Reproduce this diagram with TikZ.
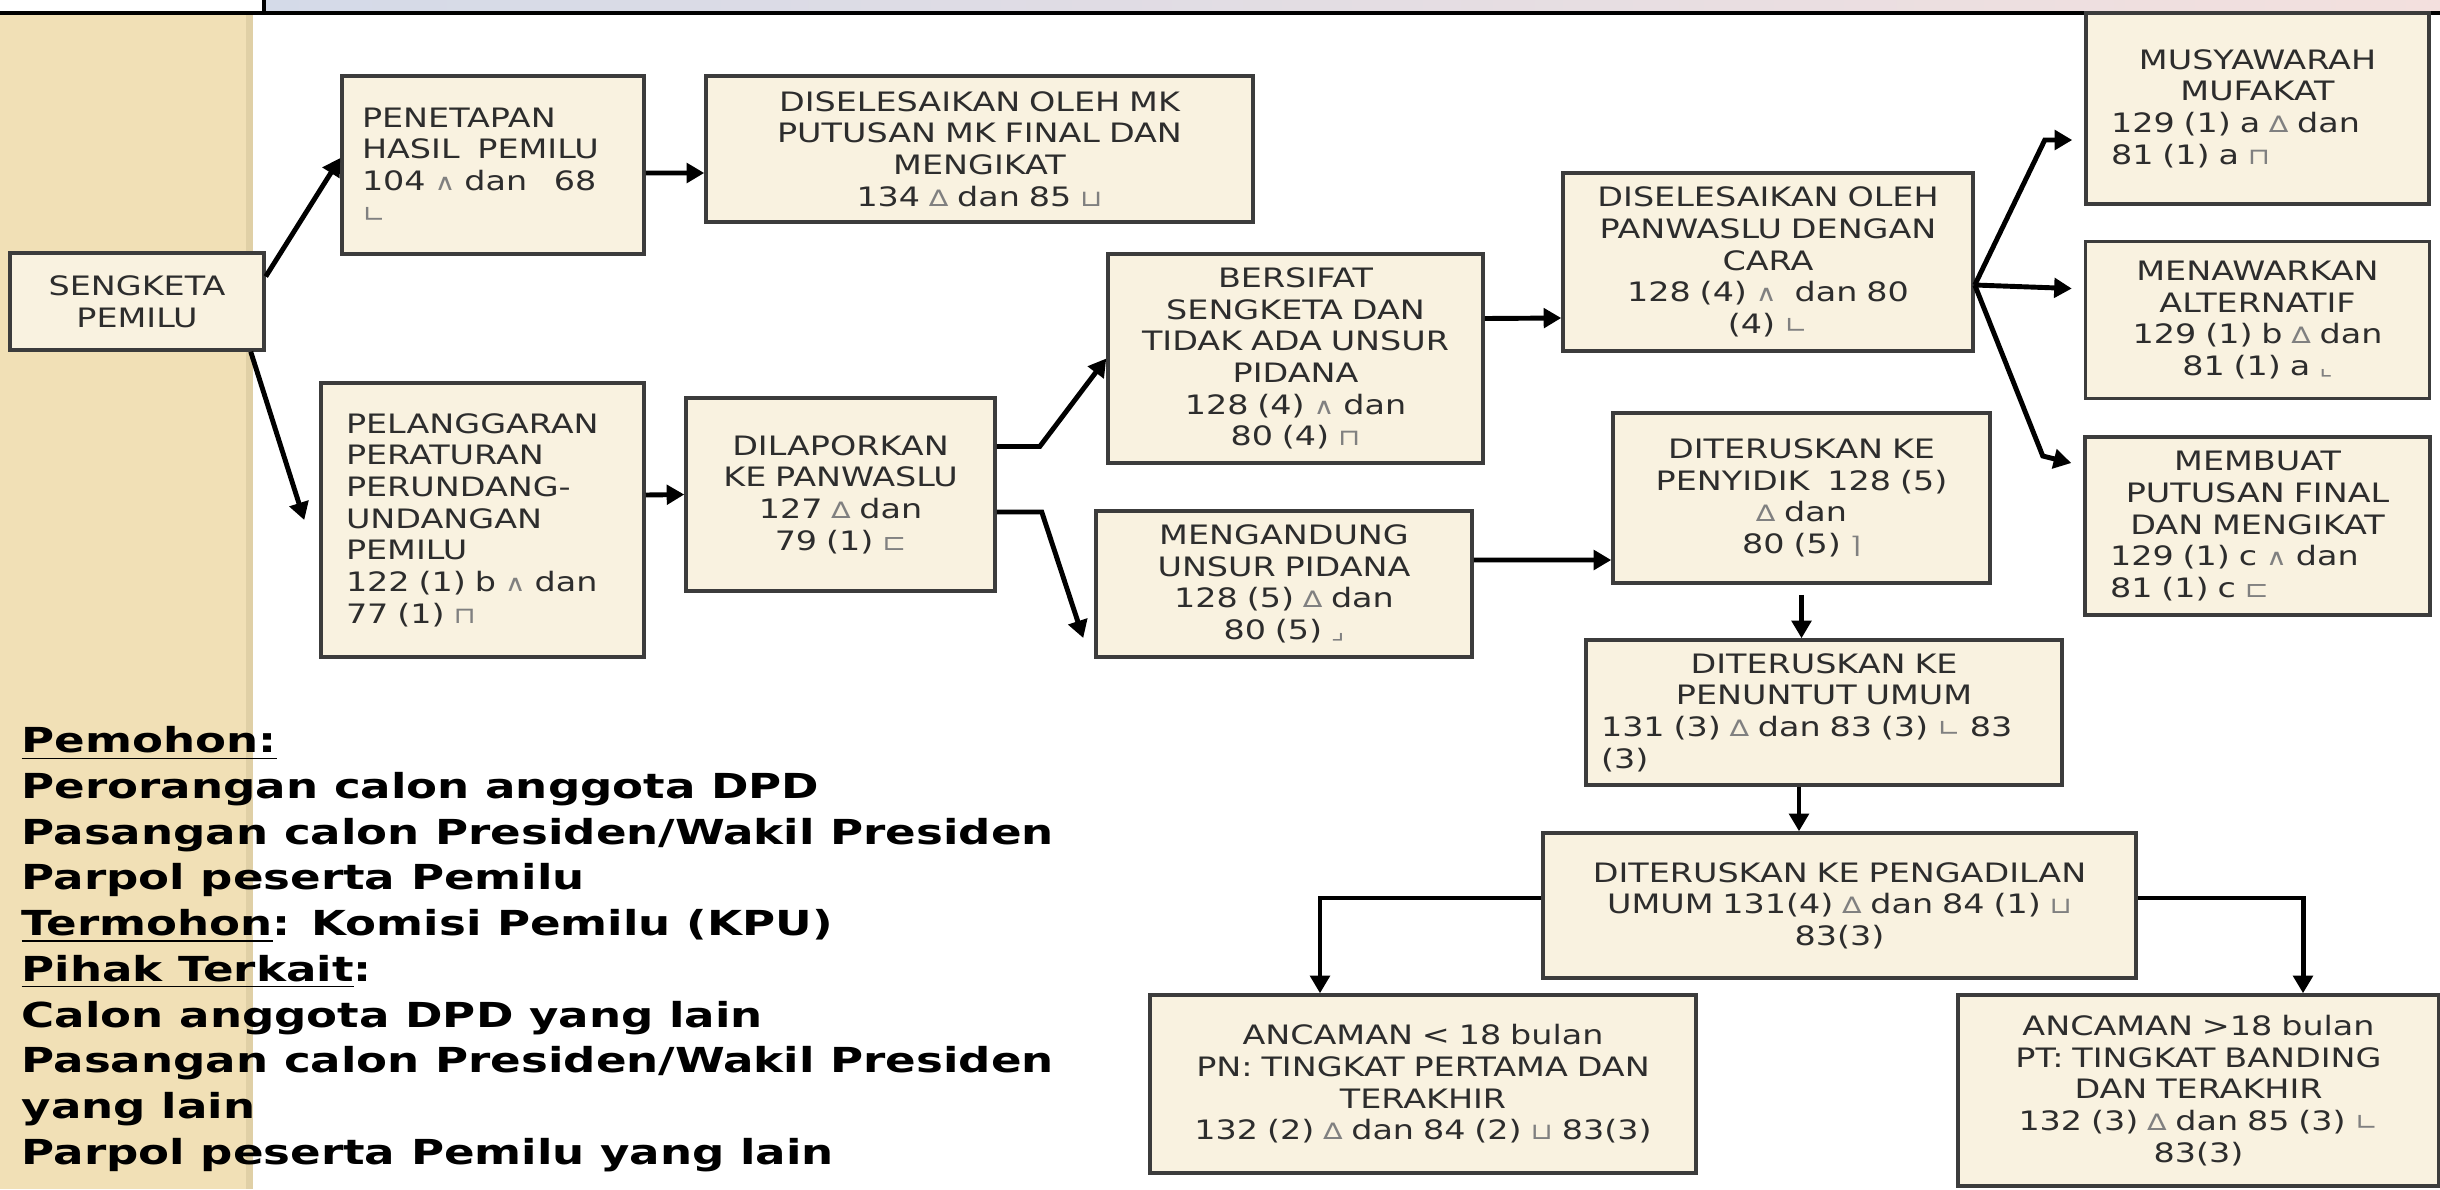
\documentclass[tikz,border=0pt]{standalone}
\usepackage{fontspec}
\setmainfont{DejaVu Sans}
\newfontfamily\boxfont[FakeStretch=1.25]{DejaVu Sans}
\newfontfamily\notefont[FakeStretch=1.31]{DejaVu Sans}
\usepackage{tikz}
\usetikzlibrary{positioning,arrows.meta}

\definecolor{boxfill}{RGB}{249,242,224}
\definecolor{boxline}{RGB}{60,60,60}
\definecolor{boxtext}{RGB}{45,45,45}
\definecolor{band}{RGB}{241,224,182}
\definecolor{bandedge}{RGB}{224,208,166}
\definecolor{stripleft}{RGB}{212,218,232}
\definecolor{stripright}{RGB}{243,224,222}
\newcommand{\sym}[1]{{\color{gray}\fontsize{6.5pt}{6.5pt}\selectfont #1}}
\newcommand{\uln}[1]{\underline{#1}}

\begin{document}
\begin{tikzpicture}[box/.style={rectangle, draw=boxline, fill=boxfill, line width=1pt, inner xsep=1mm, inner ysep=1mm, text=boxtext, align=center, font=\boxfont\fontsize{7.6pt}{9pt}\selectfont},
  >={Triangle[length=5pt,width=5.5pt]},]
\useasboundingbox (0,0) rectangle (24.4,-11.89);
%Background
\fill[white] (0,0) rectangle (24.4,-11.89);
\shade[left color=stripleft, right color=stripright] (2.64,0) rectangle (24.4,-0.13);
\fill[band] (0,-0.13) rectangle (2.53,-11.89);
\fill[bandedge] (2.46,-0.13) rectangle (2.53,-11.89);
\draw[line width=1pt] (0,-0.13) -- (24.4,-0.13);
\draw[line width=1pt] (2.64,0) -- (2.64,-0.13);

%Nodes
\node[box, text width=2.34cm, minimum height=0.97cm] (sengketa) at (1.37,-3.015) {SENGKETA\\PEMILU};
\node[box, align=left, inner xsep=2mm, text width=2.62cm, minimum height=1.78cm] (penetapan) at (4.93,-1.65) {PENETAPAN\\HASIL\ \ PEMILU\\104 \sym{∧} dan\ \ \ 68\\\sym{∟}};
\node[box, text width=5.27cm, minimum height=1.46cm] (mk) at (9.795,-1.49) {DISELESAIKAN OLEH MK\\PUTUSAN MK FINAL DAN\\MENGIKAT\\134 \sym{∆} dan 85 \sym{⊔}};
\node[box, align=left, inner xsep=2.5mm, text width=2.73cm, minimum height=2.74cm] (pelanggaran) at (4.825,-5.2) {PELANGGARAN\\PERATURAN\\PERUNDANG-\\UNDANGAN\\PEMILU\\122 (1) b \sym{∧} dan\\77 (1) \sym{⊓}};
\node[box, text width=2.89cm, minimum height=1.93cm] (dilaporkan) at (8.405,-4.945) {DILAPORKAN\\KE PANWASLU\\127 \sym{∆} dan\\79 (1) \sym{⊏}};
\node[box, text width=3.55cm, minimum height=2.09cm] (bersifat) at (12.955,-3.585) {BERSIFAT\\SENGKETA DAN\\TIDAK ADA UNSUR\\PIDANA\\128 (4) \sym{∧} dan\\80 (4) \sym{⊓}};
\node[box, text width=3.56cm, minimum height=1.46cm] (mengandung) at (12.84,-5.84) {MENGANDUNG\\UNSUR PIDANA\\128 (5) \sym{∆} dan\\80 (5) \sym{⌟}};
\node[box, text width=3.9cm, minimum height=1.78cm] (panwaslu) at (17.68,-2.62) {DISELESAIKAN OLEH\\PANWASLU DENGAN\\CARA\\128 (4) \sym{∧}\ \ dan 80\\(4) \sym{∟}};
\node[box, align=left, inner xsep=2.5mm, text width=2.93cm, minimum height=1.91cm] (musyawarah) at (22.575,-1.085) {\centering MUSYAWARAH\\MUFAKAT\par\raggedright 129 (1) a \sym{∆} dan\\81 (1) a \sym{⊓}};
\node[box, text width=3.24cm, minimum height=1.57cm] (menawarkan) [below=0.34cm of musyawarah] {MENAWARKAN\\ALTERNATIF\\129 (1) b \sym{∆} dan\\81 (1) a \sym{⌞}};
\node[box, align=left, inner xsep=2.5mm, text width=2.95cm, minimum height=1.78cm] (membuat) [below=0.35cm of menawarkan] {\centering MEMBUAT\\PUTUSAN FINAL\\DAN MENGIKAT\par\raggedright 129 (1) c \sym{∧} dan\\81 (1) c \sym{⊏}};
\node[box, text width=3.57cm, minimum height=1.7cm] (penyidik) at (18.015,-4.98) {DITERUSKAN KE\\PENYIDIK\ \ 128 (5)\\\sym{∆} dan\\80 (5) \sym{⌉}};
\node[box, align=left, inner xsep=1.5mm, inner ysep=0.5mm, text width=4.46cm, minimum height=1.45cm] (penuntut) at (18.24,-7.125) {\centering DITERUSKAN KE\\PENUNTUT UMUM\par\raggedright 131 (3) \sym{∆} dan 83 (3) \sym{∟} 83\\(3)};
\node[box, text width=5.73cm, minimum height=1.45cm] (pengadilan) at (18.395,-9.055) {DITERUSKAN KE PENGADILAN\\UMUM 131(4) \sym{∆} dan 84 (1) \sym{⊔}\\83(3)};
\node[box, text width=5.26cm, minimum height=1.78cm] (ancamanpn) at (14.23,-10.84) {ANCAMAN < 18 bulan\\PN: TINGKAT PERTAMA DAN\\TERAKHIR\\132 (2) \sym{∆} dan 84 (2) \sym{⊔} 83(3)};
\node[box, text width=4.61cm, minimum height=1.91cm] (ancamanpt) at (21.985,-10.905) {ANCAMAN >18 bulan\\PT: TINGKAT BANDING\\DAN TERAKHIR\\132 (3) \sym{∆} dan 85 (3) \sym{∟}\\83(3)};
\node[anchor=north west, inner sep=0pt, align=left, font=\notefont\bfseries\fontsize{9.8pt}{13pt}\selectfont] (pihak) at (0.21,-7.26) {\uln{Pemohon:}\\Perorangan calon anggota DPD\\Pasangan calon Presiden/Wakil Presiden\\Parpol peserta Pemilu\\\uln{Termohon}: Komisi Pemilu (KPU)\\\uln{Pihak Terkait}:\\Calon anggota DPD yang lain\\Pasangan calon Presiden/Wakil Presiden\\yang lain\\Parpol peserta Pemilu yang lain};

%Lines
\draw[->, line width=1.4pt] ([yshift=2.5mm]sengketa.east) -- ([yshift=0.7mm]penetapan.west);
\draw[->, line width=1.4pt] ([xshift=-1.5mm]sengketa.south east) -- ([xshift=-1.5mm]pelanggaran.west);
\draw[->, line width=1.4pt] ([yshift=-0.8mm]penetapan.east) -- ([yshift=-2.4mm]mk.west);
\draw[->, line width=1.4pt] ([yshift=2.5mm]pelanggaran.east) -- (dilaporkan.west);
\draw[->, line width=1.4pt] ([yshift=4.8mm]dilaporkan.east) -- ++(0.43,0) -- (bersifat.west);
\draw[->, line width=1.4pt] ([yshift=-1.75mm]dilaporkan.east) -- ++(0.45,0) -- ([xshift=-1.1mm,yshift=-5.4mm]mengandung.west);
\draw[->, line width=1.4pt] ([yshift=4mm]bersifat.east) -- ([yshift=-5.6mm]panwaslu.west);
\coordinate (fan) at ([yshift=-2.3mm]panwaslu.east);
\draw[->, line width=1.4pt] (fan) -- ++(0.7,1.45) -- ([xshift=-1.2mm,yshift=-3.15mm]musyawarah.west);
\draw[->, line width=1.4pt] (fan) -- ([xshift=-1.2mm,yshift=3.15mm]menawarkan.west);
\draw[->, line width=1.4pt] (fan) -- ++(0.68,-1.71) -- ([xshift=-1.2mm,yshift=6.3mm]membuat.west);
\draw[->, line width=1.4pt] ([yshift=2.4mm]mengandung.east) -- ([yshift=-6.2mm]penyidik.west);
\draw[->, line width=1.4pt] ([yshift=-1mm]penyidik.south) -- (penyidik.south |- penuntut.north);
\draw[->, line width=1.4pt] ([xshift=-2.5mm]penuntut.south) -- ([xshift=-2.5mm]penuntut.south |- pengadilan.north);
\draw[->, line width=1.4pt] ([yshift=0.75mm]pengadilan.west) -| ([xshift=-10.3mm]ancamanpn.north);
\draw[->, line width=1.4pt] ([yshift=0.75mm]pengadilan.east) -| ([xshift=10.45mm]ancamanpt.north);

\end{tikzpicture}
\end{document}
